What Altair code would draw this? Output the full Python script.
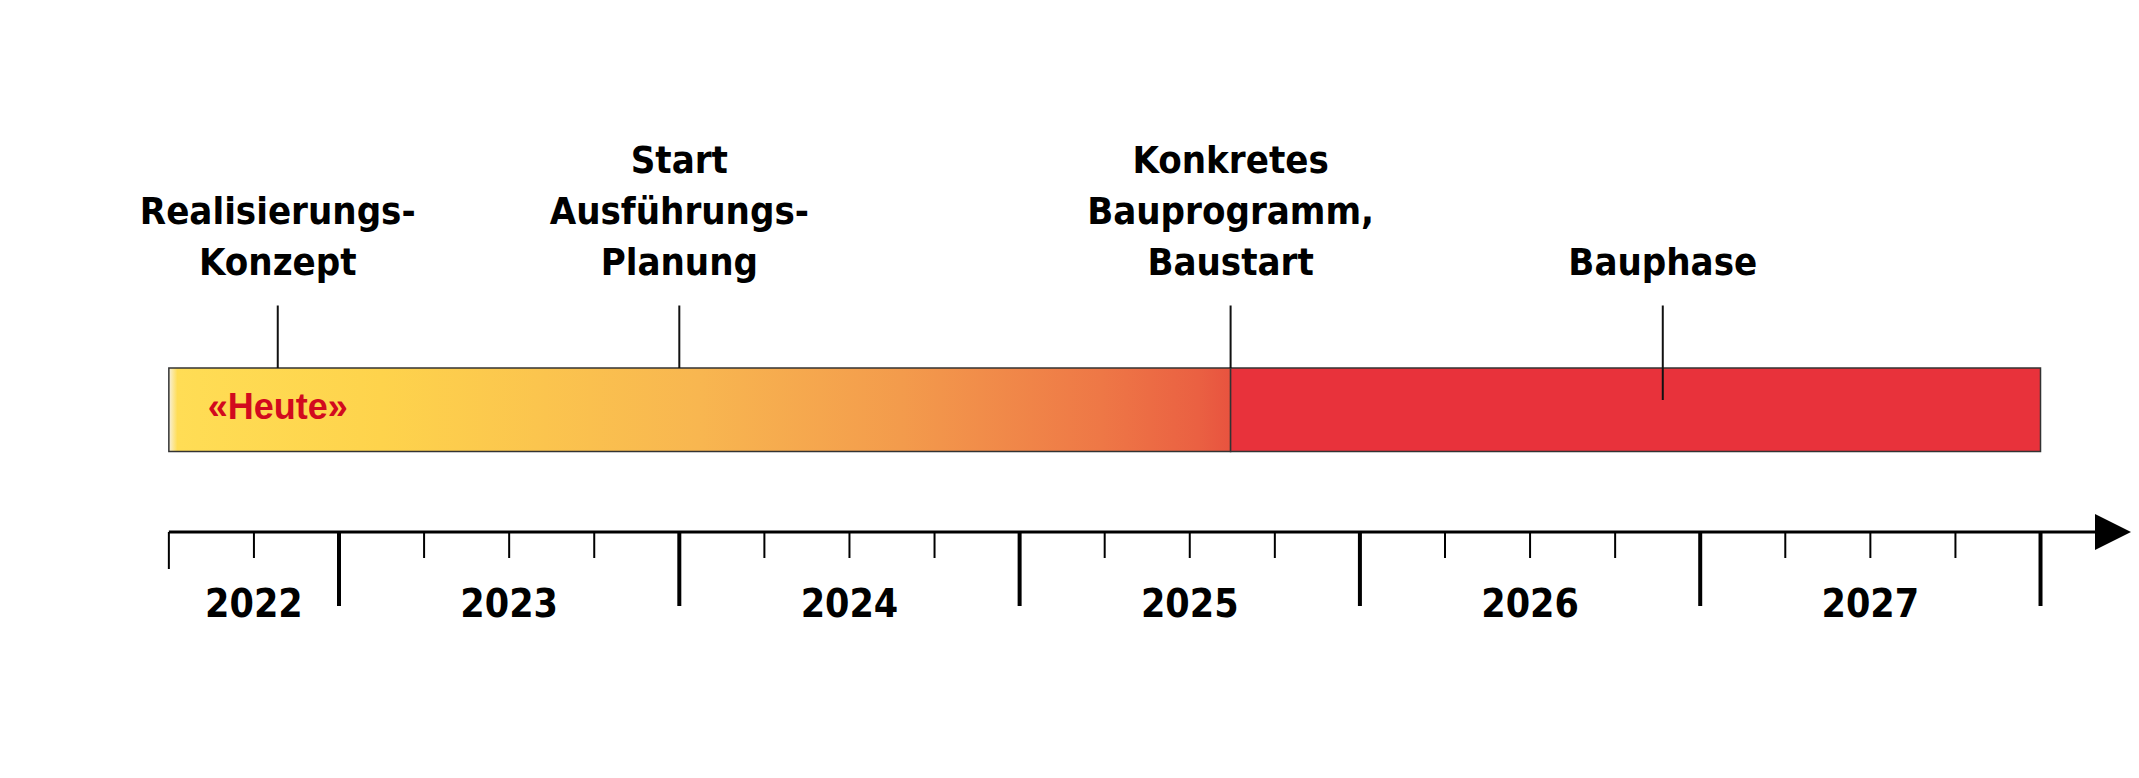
import altair as alt
import pandas as pd

# ---------------- data ----------------
milestone_labels = ["Realisierungs-\nKonzept", "Start\nAusführungs-\nPlanung",
                    "Konkretes\nBauprogramm,\nBaustart", "Bauphase"]
milestone_dates = [2022.82, 2024.0, 2025.62, 2026.89]

today_label = ["«Heute»"]
today_date = [2022.82]

phase_names = ["Planung", "Bauphase"]
phase_start = [2022.5, 2025.62]
phase_end = [2025.62, 2028.0]

year_labels = ["2022", "2023", "2024", "2025", "2026", "2027"]
year_label_pos = [2022.75, 2023.5, 2024.5, 2025.5, 2026.5, 2027.5]
year_boundaries = [2023, 2024, 2025, 2026, 2027, 2028]
quarter_ticks = [2022.75, 2023.25, 2023.5, 2023.75, 2024.25, 2024.5, 2024.75,
                 2025.25, 2025.5, 2025.75, 2026.25, 2026.5, 2026.75,
                 2027.25, 2027.5, 2027.75]
timeline_start = [2022.5]

# ---------------- tables ----------------
milestones = pd.DataFrame({"label": milestone_labels, "date": milestone_dates})
line_rows = []
for lab, d in zip(milestone_labels, milestone_dates):
    parts = lab.split("\n")
    for i, p in enumerate(parts):
        line_rows.append({"text": p, "date": d, "from_bottom": len(parts) - 1 - i})
label_lines = pd.DataFrame(line_rows)

today = pd.DataFrame({"label": today_label, "date": today_date})
phases = pd.DataFrame({"phase": phase_names, "start": phase_start, "end": phase_end})
years = pd.DataFrame({"label": year_labels, "pos": year_label_pos})
ybounds = pd.DataFrame({"date": year_boundaries})
quarters = pd.DataFrame({"date": quarter_ticks})
start = pd.DataFrame({"date": timeline_start})

FONT = "DejaVu Sans Condensed, DejaVu Sans, sans-serif"
xs = alt.Scale(domain=[2022.0273, 2028.2659], nice=False, zero=False)

BAR_TOP, BAR_BOT = 360, 443.5
AXIS_Y = 524
ARROW_X = 2105
LAST_BASELINE = 267
LINE_H = 51

grad = alt.Gradient(
    gradient="linear", x1=0, x2=1, y1=0, y2=0,
    stops=[
        alt.GradientStop(offset=0.0, color="#f7f0dc"),
        alt.GradientStop(offset=0.008, color="#ffdd55"),
        alt.GradientStop(offset=0.2, color="#fed34c"),
        alt.GradientStop(offset=0.5, color="#f8b650"),
        alt.GradientStop(offset=0.69, color="#f39b4c"),
        alt.GradientStop(offset=0.88, color="#ee7746"),
        alt.GradientStop(offset=0.97, color="#ea6042"),
        alt.GradientStop(offset=1.0, color="#e8533f"),
    ],
)

plan_bar = alt.Chart(phases).transform_filter(alt.datum.phase == "Planung").mark_rect(
    fill=grad, stroke="#333333", strokeWidth=1.5
).encode(
    x=alt.X("start:Q", scale=xs, axis=None), x2="end:Q",
    y=alt.value(BAR_TOP), y2=alt.value(BAR_BOT),
)

build_bar = alt.Chart(phases).transform_filter(alt.datum.phase == "Bauphase").mark_rect(
    fill="#e8323b", stroke="#333333", strokeWidth=1.5
).encode(
    x=alt.X("start:Q", scale=xs, axis=None), x2="end:Q",
    y=alt.value(BAR_TOP), y2=alt.value(BAR_BOT),
)

m_rules = alt.Chart(milestones).mark_rule(color="#111111", strokeWidth=2).encode(
    x=alt.X("date:Q", scale=xs, axis=None),
    y=alt.value(297.5), y2=alt.value(BAR_TOP),
)

bau_ext = alt.Chart(milestones).transform_filter(alt.datum.label == "Bauphase").mark_rule(
    color="#111111", strokeWidth=2
).encode(
    x=alt.X("date:Q", scale=xs, axis=None),
    y=alt.value(BAR_TOP), y2=alt.value(392),
)

text_layers = []
for k in range(3):
    text_layers.append(
        alt.Chart(label_lines).transform_filter(alt.datum.from_bottom == k).mark_text(
            font=FONT, fontSize=38, fontWeight="bold", color="#000000",
            align="center", baseline="alphabetic",
        ).encode(
            x=alt.X("date:Q", scale=xs, axis=None),
            y=alt.value(LAST_BASELINE - k * LINE_H),
            text="text:N",
        )
    )

today_text = alt.Chart(today).mark_text(
    font="Liberation Sans, Arial, sans-serif", fontSize=36, fontWeight="bold",
    color="#d20a1e", align="center", baseline="alphabetic",
).encode(
    x=alt.X("date:Q", scale=xs, axis=None), y=alt.value(411), text="label:N",
)

axis_line = alt.Chart(start).mark_rule(color="#000000", strokeWidth=3).encode(
    x=alt.X("date:Q", scale=xs, axis=None), x2=alt.value(ARROW_X), y=alt.value(AXIS_Y),
)

arrow = alt.Chart(start).mark_point(
    shape="M -1 -1 L 1 0 L -1 1 Z", size=1296, filled=True, color="#000000", opacity=1,
).encode(
    x=alt.value(ARROW_X), y=alt.value(AXIS_Y),
)

start_tick = alt.Chart(start).mark_rule(color="#000000", strokeWidth=2).encode(
    x=alt.X("date:Q", scale=xs, axis=None), y=alt.value(AXIS_Y), y2=alt.value(561),
)

q_ticks = alt.Chart(quarters).mark_rule(color="#000000", strokeWidth=2).encode(
    x=alt.X("date:Q", scale=xs, axis=None), y=alt.value(AXIS_Y), y2=alt.value(550),
)

y_ticks = alt.Chart(ybounds).mark_rule(color="#000000", strokeWidth=4).encode(
    x=alt.X("date:Q", scale=xs, axis=None), y=alt.value(AXIS_Y), y2=alt.value(598),
)

y_text = alt.Chart(years).mark_text(
    font=FONT, fontSize=39, fontWeight="bold", color="#000000",
    align="center", baseline="middle",
).encode(
    x=alt.X("pos:Q", scale=xs, axis=None), y=alt.value(597), text="label:N",
)

chart = alt.layer(
    plan_bar, build_bar, m_rules, bau_ext, *text_layers, today_text,
    axis_line, arrow, start_tick, q_ticks, y_ticks, y_text,
).properties(
    width=2123, height=762, padding=0, autosize="none", background="#ffffff",
).configure_view(stroke=None)

chart.save("out.html", embed_options={"renderer": "svg", "actions": False})
